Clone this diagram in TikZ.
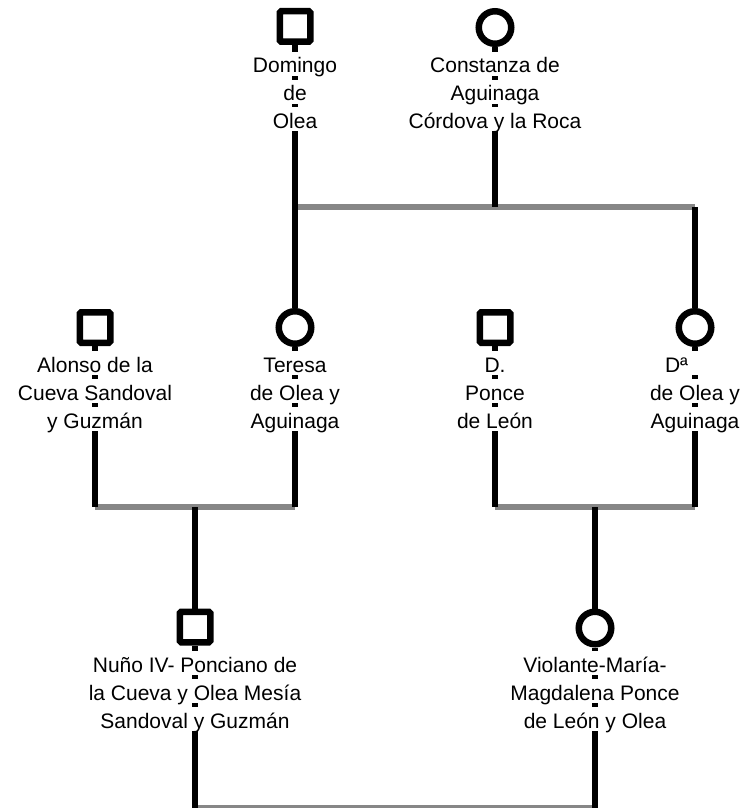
\documentclass[tikz,border=0pt]{standalone}
\usepackage{fontspec}
\setmainfont{Liberation Sans}
\definecolor{bargray}{HTML}{878787}
\begin{document}
\begin{tikzpicture}[x=1pt,y=-1pt,
  male/.style={draw=black,fill=white,line width=6.5pt,rectangle,rounded corners=1.5pt,minimum size=30.5pt,inner sep=0pt},
  female/.style={draw=black,fill=white,line width=6.5pt,circle,minimum size=32.5pt,inner sep=0pt},
  stem/.style={draw=black,line width=5.5pt},
  bar/.style={draw=bargray,line width=6pt},
  lbl/.style={font=\fontsize{21}{24}\selectfont,fill=white,inner xsep=1pt,inner ysep=2pt,text height=19pt,text depth=1pt,anchor=base}]
\useasboundingbox (0,0) rectangle (745,808);
% people
\node[male] (domingo) at (295,26.5) {};
\node[female] (constanza) at (495,27.5) {};
\node[male] (alonso) at (95,327.5) {};
\node[female] (teresa) at (295,327.5) {};
\node[male] (ponce) at (495,327.5) {};
\node[female] (dona) at (695,327.5) {};
\node[male] (nuno) at (195,627) {};
\node[female] (violante) at (595,628) {};
% junctions
\coordinate (b1L) at (295,207);
\coordinate (b1M) at (495,207);
\coordinate (b1R) at (695,207);
\coordinate (b2L) at (95,507);
\coordinate (b2M) at (195,507);
\coordinate (b2R) at (295,507);
\coordinate (b3L) at (495,507);
\coordinate (b3M) at (595,507);
\coordinate (b3R) at (695,507);
\coordinate (b4L) at (195,808);
\coordinate (b4R) at (595,808);
% marriage bars
\draw[bar] (b1L) -- (b1R);
\draw[bar] (b2L) -- (b2R);
\draw[bar] (b3L) -- (b3R);
\draw[bar] (b4L) -- (b4R);
% stems
\draw[stem] (domingo) -- (teresa);
\draw[stem] (constanza) -- (b1M);
\draw[stem] (b1R) -- (dona);
\draw[stem] (alonso) -- (b2L);
\draw[stem] (teresa) -- (b2R);
\draw[stem] (b2M) -- (nuno);
\draw[stem] (ponce) -- (b3L);
\draw[stem] (dona) -- (b3R);
\draw[stem] (b3M) -- (violante);
\draw[stem] (nuno) -- (b4L);
\draw[stem] (violante) -- (b4R);
% labels
\node[lbl] (dom1) at (295,73) {Domingo};
\node[lbl] (dom2) at (295,100.5) {de};
\node[lbl] (dom3) at (295,128) {Olea};
\node[lbl] (con1) at (495,73) {Constanza de};
\node[lbl] (con2) at (495,100.5) {Aguinaga};
\node[lbl] (con3) at (495,128) {Córdova y la Roca};
\node[lbl] (alo1) at (95,372) {Alonso de la};
\node[lbl] (alo2) at (95,400) {Cueva Sandoval};
\node[lbl] (alo3) at (95,428) {y Guzmán};
\node[lbl] (ter1) at (295,372) {Teresa};
\node[lbl] (ter2) at (295,400) {de Olea y};
\node[lbl] (ter3) at (295,428) {Aguinaga};
\node[lbl] (pon1) at (495,372) {D.};
\node[lbl] (pon2) at (495,400) {Ponce};
\node[lbl] (pon3) at (495,428) {de León};
\node[lbl] (don1) at (695,372) {\makebox[60pt][l]{Dª}};
\node[lbl] (don2) at (695,400) {de Olea y};
\node[lbl] (don3) at (695,428) {Aguinaga};
\node[lbl] (nun1) at (195,672) {Nuño IV- Ponciano de};
\node[lbl] (nun2) at (195,700) {la Cueva y Olea Mesía};
\node[lbl] (nun3) at (195,728) {Sandoval y Guzmán};
\node[lbl] (vio1) at (595,672) {Violante-María-};
\node[lbl] (vio2) at (595,700) {Magdalena Ponce};
\node[lbl] (vio3) at (595,728) {de León y Olea};
\end{tikzpicture}
\end{document}
